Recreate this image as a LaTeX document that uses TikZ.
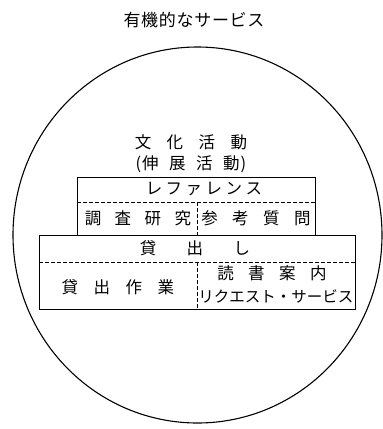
\documentclass[tikz,border=0pt]{standalone}
\usepackage{fontspec}
\newfontfamily\jp{Noto Sans CJK JP}
\newcommand\gp[1]{\hspace{#1bp}}
\tikzset{
  ring/.style={line width=1.1bp},
  outline/.style={line width=0.9bp},
  divider/.style={line width=0.8bp, dash pattern=on 4bp off 2bp},
  lbl/.style={inner sep=0pt, font=\jp\fontsize{16.5bp}{16.5bp}\selectfont},
  ttl/.style={inner sep=0pt, font=\jp\fontsize{17bp}{17bp}\selectfont},
}
\begin{document}
\begin{tikzpicture}[x=1bp,y=-1bp]
\useasboundingbox (0,0) rectangle (383,429);
\fill[white] (0,0) rectangle (383,429);
% title
\node[ttl] (title) at (194,20) {有\gp{0.7}機\gp{0.7}的\gp{0.7}な\gp{0.7}サ\gp{0.7}ー\gp{0.7}ビ\gp{0.7}ス};
% outer circle
\draw[ring] (197.5,235) ellipse [x radius=184.5bp, y radius=188bp];
% upper box (reference)
\coordinate (uTL) at (77,177);
\coordinate (uBR) at (315,235);
\draw[outline] (uTL) rectangle (uBR);
\draw[divider] (77,202) -- (315,202);
\draw[divider] (197,202) -- (197,235);
% lower box (lending)
\coordinate (lTL) at (39,235);
\coordinate (lBR) at (355,309);
\draw[outline] (lTL) rectangle (lBR);
\draw[divider] (39,262) -- (355,262);
\draw[divider] (197,262) -- (197,309);
% texts
\node[lbl] (bunka) at (191,142) {文\gp{15.5}化\gp{15.5}活\gp{15.5}動};
\node[lbl] (shinten) at (191,164) {(\gp{1}伸\gp{10.5}展\gp{10.5}活\gp{10.5}動\gp{1})};
\node[lbl] (ref) at (204,189) {レ\gp{3.5}フ\gp{3.5}ァ\gp{3.5}レ\gp{3.5}ン\gp{3.5}ス};
\node[lbl] (chosa) at (138,218) {調\gp{13.5}査\gp{13.5}研\gp{13.5}究};
\node[lbl] (sanko) at (256,218) {参\gp{14.5}考\gp{14.5}質\gp{14.5}問};
\node[lbl] (kashidashi) at (195,248) {貸\gp{30.5}出\gp{30.5}し};
\node[lbl] (sagyo) at (118,287) {貸\gp{15.5}出\gp{15.5}作\gp{15.5}業};
\node[lbl] (dokusho) at (272,273) {読\gp{14.5}書\gp{14.5}案\gp{14.5}内};
\node[lbl, font=\jp\fontsize{15.5bp}{15.5bp}\selectfont] (request) at (276,296) {リクエスト・サービス};
\end{tikzpicture}
\end{document}
